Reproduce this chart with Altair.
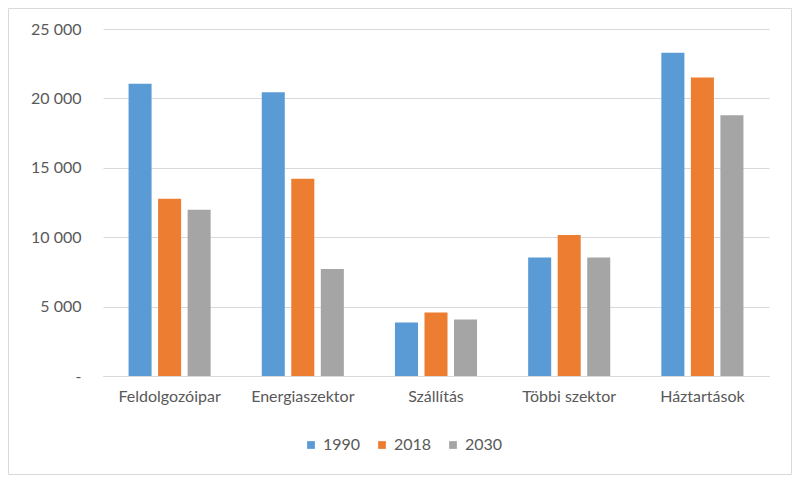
import altair as alt
import pandas as pd

categories = ["Feldolgozóipar", "Energiaszektor", "Szállítás", "Többi szektor", "Háztartások"]
years = ["1990", "2018", "2030"]
values_1990 = [21050, 20450, 3850, 8540, 23280]
values_2018 = [12770, 14210, 4570, 10150, 21500]
values_2030 = [11980, 7700, 4070, 8540, 18790]
colors = ["#5B9BD5", "#ED7D31", "#A5A5A5"]
y_ticks = [0, 5000, 10000, 15000, 20000, 25000]

rows = []
for year, vals in zip(years, [values_1990, values_2018, values_2030]):
    for cat, v in zip(categories, vals):
        rows.append({"sector": cat, "year": year, "value": v})
df = pd.DataFrame(rows)

NB = "\u00a0"
label_expr = (
    "datum.value == 0 ? '-" + NB + NB + NB + "' : replace(format(datum.value, ','), ',', '" + NB + "')"
)

bars = alt.Chart(df).mark_bar().encode(
    x=alt.X(
        "sector:N",
        sort=categories,
        scale=alt.Scale(paddingInner=0.335, paddingOuter=0.1675),
        axis=alt.Axis(
            title=None, labelAngle=0, ticks=False, labelPadding=12,
            domainColor="#d9d9d9", domainWidth=1, labelFontSize=16,
        ),
    ),
    xOffset=alt.XOffset(
        "year:N", sort=years, scale=alt.Scale(paddingInner=0.22, paddingOuter=0.11)
    ),
    y=alt.Y(
        "value:Q",
        scale=alt.Scale(domain=[0, 25000], nice=False),
        axis=alt.Axis(
            title=None, values=y_ticks, labelExpr=label_expr, ticks=False, domain=False,
            gridColor="#d9d9d9", gridWidth=1, labelPadding=22, labelFontSize=16,
        ),
    ),
    color=alt.Color(
        "year:N",
        sort=years,
        scale=alt.Scale(domain=years, range=colors),
        legend=alt.Legend(
            title=None, orient="none", direction="horizontal", legendX=200, legendY=408,
            symbolType="square", symbolSize=60, symbolStrokeWidth=0, labelFontSize=16,
            labelColor="#595959", labelFont="Lato", columnPadding=13, labelOffset=4,
        ),
    ),
)

border = alt.Chart(pd.DataFrame({"a": [0]})).mark_rect(
    fill=None, stroke="#d9d9d9", strokeWidth=1
).encode(
    x=alt.value(-94.5), x2=alt.value(688.5), y=alt.value(-20.5), y2=alt.value(445.5)
)

chart = alt.layer(border, bars).properties(
    width=666,
    height=347,
    autosize=alt.AutoSizeParams(type="none"),
    padding={"left": 95, "top": 21, "right": 23, "bottom": 99},
).configure_view(stroke=None).configure_axis(
    labelFont="Lato", labelColor="#595959"
)

chart.save("out.html", embed_options={"renderer": "svg", "actions": False})
